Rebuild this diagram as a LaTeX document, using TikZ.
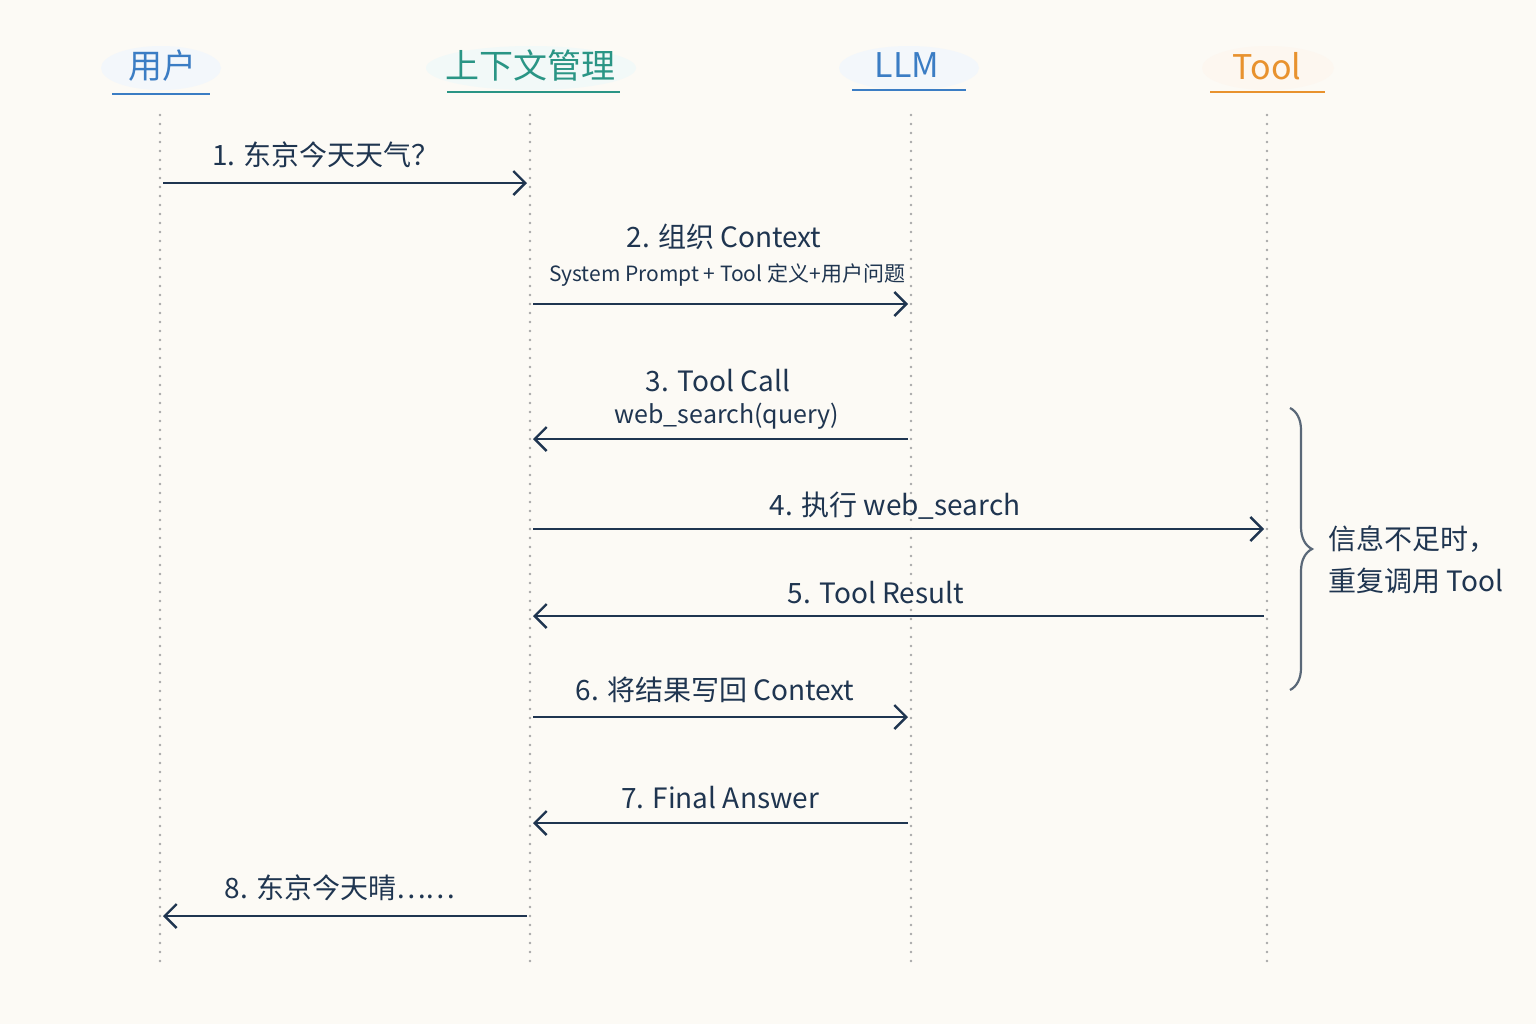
\documentclass[tikz,border=0pt]{standalone}
\usepackage{fontspec}
\newfontfamily\cjk{Noto Sans CJK SC}
\usepackage{tikz}
\usetikzlibrary{arrows.meta,decorations.pathreplacing}
\definecolor{seqbg}{HTML}{FCFAF5}
\definecolor{seqink}{HTML}{1F3550}
\definecolor{seqblue}{HTML}{3B7DC4}
\definecolor{seqteal}{HTML}{2A9585}
\definecolor{seqorange}{HTML}{E8922E}
\definecolor{seqgray}{HTML}{A8A8A8}
\definecolor{seqbrace}{HTML}{5A6878}

\begin{document}
\begin{tikzpicture}[x=0.5pt,y=-0.5pt,
  head/.style={font=\cjk\fontsize{17}{20}\selectfont, inner sep=0pt},
  msg/.style={seqink, line width=1.2pt, shorten >=1.5pt, shorten <=1.5pt,
    -{Straight Barb[length=6pt,width=12pt,line width=1.2pt]}},
  lbl/.style={font=\cjk\fontsize{14}{16}\selectfont, text=seqink, inner sep=0pt},
  sublbl/.style={font=\cjk\fontsize{10.5}{12}\selectfont, text=seqink, inner sep=0pt},
  life/.style={seqgray, line width=1.3pt, line cap=round, dash pattern=on 0pt off 4.5pt}]
  \useasboundingbox (0,0) rectangle (1536,1024);
  \fill[seqbg] (0,0) rectangle (1536,1024);
  % headers
  \fill[seqblue!6] (161,68) ellipse (60 and 22);
  \fill[seqteal!6] (531,68) ellipse (105 and 22);
  \fill[seqblue!6] (909,68) ellipse (70 and 22);
  \fill[seqorange!7] (1268,68) ellipse (66 and 22);
  \node[head, text=seqblue] (user) at (162,66) {用户};
  \node[head, text=seqteal] (ctx) at (530,65) {上下文管理};
  \node[head, text=seqblue] (llm) at (907,65) {LLM};
  \node[head, text=seqorange] (tool) at (1267,66) {Tool};
  \draw[seqblue, line width=1.3pt] (112,94) -- (210,94);
  \draw[seqteal, line width=1.3pt] (447,92) -- (620,92);
  \draw[seqblue, line width=1.3pt] (852,90) -- (966,90);
  \draw[seqorange, line width=1.3pt] (1210,92) -- (1325,92);
  % lifelines
  \foreach \n/\x in {user/160,ctx/530,llm/911,tool/1267} {
    \draw[life] (\x,115) -- (\x,968);
    \foreach \r/\y in {1/183,2/304,3/439,4/529,5/616,6/717,7/823,8/916}
      \coordinate (\n\r) at (\x,\y);
  }
  % messages
  \node[lbl] (m1) at (326,155) {1. 东京今天天气？};
  \draw[msg] (user1) -- (ctx1);
  \node[lbl] (m2) at (724,237) {2. 组织 Context};
  \node[sublbl] (m2b) at (727,275) {System Prompt + Tool 定义+用户问题};
  \draw[msg] (ctx2) -- (llm2);
  \node[lbl] (m3) at (718,381) {3. Tool Call};
  \node[lbl, font=\cjk\fontsize{12.5}{14}\selectfont] (m3b) at (727,416) {web\_search(query)};
  \draw[msg] (llm3) -- (ctx3);
  \node[lbl] (m4) at (895,506) {4. 执行 web\_search};
  \draw[msg] (ctx4) -- (tool4);
  \node[lbl] (m5) at (876,593) {5. Tool Result};
  \draw[msg] (tool5) -- (ctx5);
  \node[lbl] (m6) at (715,690) {6. 将结果写回 Context};
  \draw[msg] (ctx6) -- (llm6);
  \node[lbl] (m7) at (720,798) {7. Final Answer};
  \draw[msg] (llm7) -- (ctx7);
  \node[lbl] (m8) at (340,888) {8. 东京今天晴……};
  \draw[msg] (ctx8) -- (user8);
  % loop note
  \coordinate (brtop) at (1290,408);
  \coordinate (brbot) at (1290,690);
  \draw[seqbrace, line width=1.1pt, decorate,
    decoration={brace, amplitude=11pt}] (brtop) -- (brbot);
  \node[lbl, anchor=west, align=left, font=\cjk\fontsize{14}{21}\selectfont]
    (note) at (1328,560) {信息不足时，\\重复调用 Tool};
\end{tikzpicture}
\end{document}
